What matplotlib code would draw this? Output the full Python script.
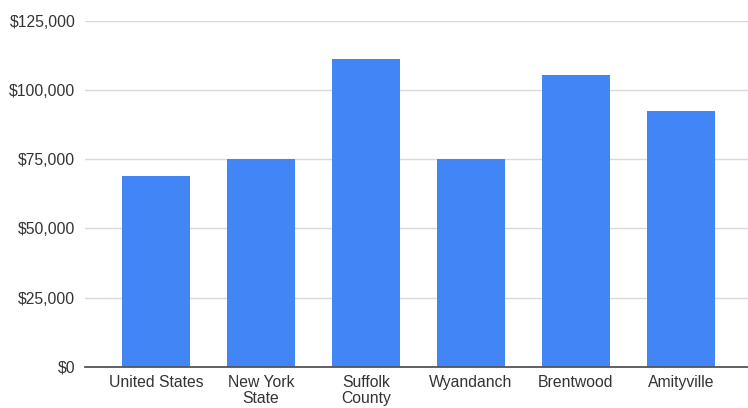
import matplotlib
matplotlib.use("Agg")
import matplotlib.pyplot as plt
from matplotlib.ticker import FuncFormatter

categories = ["United States", "New York\nState", "Suffolk\nCounty", "Wyandanch", "Brentwood", "Amityville"]
values = [69000, 75000, 111200, 75000, 105500, 92500]
yticks = [0, 25000, 50000, 75000, 100000, 125000]

plt.rcParams['font.family'] = ['Liberation Sans', 'DejaVu Sans']

fig = plt.figure(figsize=(7.48, 4.08), dpi=100)
ax = fig.add_axes([0.1136, 0.1012, 0.8864, 0.8478])

x = list(range(len(categories)))
ax.bar(x, values, width=0.65, color="#4285F4", zorder=3)

ax.set_ylim(0, 125000)
ax.set_xlim(-0.677, 5.64)
ax.set_yticks(yticks)
ax.yaxis.set_major_formatter(FuncFormatter(lambda v, p: "${:,.0f}".format(v)))
ax.set_xticks(x)
ax.set_xticklabels(categories, linespacing=1.05)

ax.grid(axis='y', color="#d9d9d9", linewidth=1, zorder=0)
for s in ["top", "right", "left"]:
    ax.spines[s].set_visible(False)
ax.spines["bottom"].set_color("#555555")
ax.spines["bottom"].set_linewidth(1.3)
ax.spines["bottom"].set_zorder(4)

ax.tick_params(axis='both', length=0, labelsize=11.3, colors="#333333")
ax.tick_params(axis='y', pad=7)
ax.tick_params(axis='x', pad=6)

fig.savefig("out.png", dpi=100)
